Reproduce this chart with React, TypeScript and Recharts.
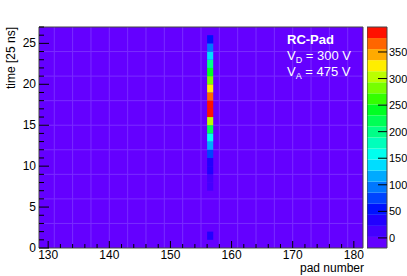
import { ComposedChart, XAxis, YAxis, ReferenceArea, CartesianGrid } from 'recharts';

// pad range and time bins (25 ns each)
const PAD_MIN = 128.5;
const PAD_MAX = 181.5;
const TIME_MAX = 27;
const HIT_PAD = 156;

// charge per time bin (index = time bin) for the hit pad
const TIME_BINS = [0, 25, 0, 0, 0, 0, 0, 10, 15, 25, 40, 70, 110, 160, 230, 300, 380, 390, 360, 320, 280, 240, 190, 140, 90, 50, 0];

const X_TICKS = [130, 132, 134, 136, 138, 140, 142, 144, 146, 148, 150, 152, 154, 156, 158, 160, 162, 164, 166, 168, 170, 172, 174, 176, 178, 180];
const Y_TICKS = [0, 1, 2, 3, 4, 5, 6, 7, 8, 9, 10, 11, 12, 13, 14, 15, 16, 17, 18, 19, 20, 21, 22, 23, 24, 25, 26, 27];
const Z_TICKS = [0, 50, 100, 150, 200, 250, 300, 350];
const Z_MIN = -19;
const Z_MAX = 397;

// 20 contour colours, bottom to top
const PALETTE = [
  '#6400ff', '#4400ff', '#2200ff', '#0011ff', '#0044ff',
  '#0077ff', '#00aaff', '#00ddff', '#00ffee', '#00ffbb',
  '#00ff88', '#00ff55', '#00ff22', '#33ff00', '#77ff00',
  '#bbff00', '#ffee00', '#ffaa00', '#ff6600', '#ff1100',
];

const GRID_X = [131, 134, 137, 140, 143, 146, 149, 152, 155, 158, 161, 164, 167, 170, 173, 176, 179];
const GRID_Y = [3, 6, 9, 12, 15, 18, 21, 24];

const FONT = '"Liberation Sans", Arial, sans-serif';
const STEP = (Z_MAX - Z_MIN) / PALETTE.length;

const colorFor = (v: number) => {
  const i = Math.min(PALETTE.length - 1, Math.max(0, Math.floor((v - Z_MIN) / STEP)));
  return PALETTE[i];
};

// ROOT style ticks: drawn inward, labels outside
// eslint-disable-next-line @typescript-eslint/no-explicit-any
const YTick = (props: any) => {
  const { x, y, payload } = props;
  const v = payload.value as number;
  const major = v % 5 === 0;
  return (
    <g>
      <line x1={x} x2={x + (major ? 10 : 5)} y1={y} y2={y} stroke="#000" />
      {major && (
        <text x={x - 3} y={y + 4} textAnchor="end" fontSize={12} fontFamily={FONT} fill="#000">{v}</text>
      )}
    </g>
  );
};

// eslint-disable-next-line @typescript-eslint/no-explicit-any
const XTick = (props: any) => {
  const { x, y, payload } = props;
  const v = payload.value as number;
  const major = v % 10 === 0;
  return (
    <g>
      <line x1={x} x2={x} y1={y} y2={y - (major ? 7 : 4)} stroke="#000" />
      {major && (
        <text x={x} y={y + 11} textAnchor="middle" fontSize={12} fontFamily={FONT} fill="#000">{v}</text>
      )}
    </g>
  );
};

// eslint-disable-next-line @typescript-eslint/no-explicit-any
const ZTick = (props: any) => {
  const { x, y, payload } = props;
  return (
    <g>
      <line x1={x - 9} x2={x} y1={y} y2={y} stroke="#000" />
      <text x={x + 2} y={y + 4} textAnchor="start" fontSize={11} fontFamily={FONT} fill="#000">{payload.value}</text>
    </g>
  );
};

export default function App() {
  return (
    <div style={{ position: 'absolute', left: 0, top: 0, width: 407, height: 276, background: '#fff' }}>
      <div style={{ position: 'absolute', left: 0, top: 0 }}>
        <ComposedChart width={407} height={276} margin={{ top: 27, right: 44, bottom: 0, left: 9 }}>
          <CartesianGrid
            fill={PALETTE[0]}
            fillOpacity={1}
            stroke="#7a2cff"
            strokeWidth={1}
            verticalValues={GRID_X}
            horizontalValues={GRID_Y}
          />
          <XAxis
            type="number"
            dataKey="pad"
            domain={[PAD_MIN, PAD_MAX]}
            allowDataOverflow
            ticks={X_TICKS}
            interval={0}
            height={28}
            tickSize={0}
            tickMargin={0}
            axisLine={false}
            tick={<XTick />}
          />
          <YAxis
            type="number"
            dataKey="time"
            domain={[0, TIME_MAX]}
            allowDataOverflow
            ticks={Y_TICKS}
            interval={0}
            width={30}
            tickSize={0}
            tickMargin={0}
            axisLine={false}
            tick={<YTick />}
          />
          {TIME_BINS.map((v, t) => v > 0 && (
            <ReferenceArea
              key={t}
              x1={HIT_PAD}
              x2={HIT_PAD + 1}
              y1={t}
              y2={t + 1}
              fill={colorFor(v)}
              fillOpacity={1}
              stroke="none"
            />
          ))}
          <ReferenceArea x1={PAD_MIN} x2={PAD_MAX} y1={0} y2={TIME_MAX} fill="none" stroke="#444" strokeWidth={1} />
        </ComposedChart>
      </div>
      <div style={{ position: 'absolute', left: 367, top: 0 }}>
        <ComposedChart width={40} height={276} margin={{ top: 27, right: 0, bottom: 0, left: 0 }}>
          <XAxis
            type="number"
            dataKey="x"
            domain={[0, 1]}
            allowDataOverflow
            height={28}
            tick={false}
            axisLine={false}
            tickLine={false}
          />
          <YAxis
            type="number"
            dataKey="z"
            orientation="right"
            domain={[Z_MIN, Z_MAX]}
            allowDataOverflow
            ticks={Z_TICKS}
            interval={0}
            width={20}
            tickSize={0}
            tickMargin={0}
            axisLine={false}
            tick={<ZTick />}
          />
          {PALETTE.map((c, i) => (
            <ReferenceArea
              key={c}
              x1={0}
              x2={1}
              y1={Z_MIN + i * STEP}
              y2={Z_MIN + (i + 1) * STEP}
              fill={c}
              fillOpacity={1}
              stroke="none"
            />
          ))}
          <ReferenceArea x1={0} x2={1} y1={Z_MIN} y2={Z_MAX} fill="none" stroke="#444" strokeWidth={1} />
        </ComposedChart>
      </div>
      <svg width={407} height={276} style={{ position: 'absolute', left: 0, top: 0, pointerEvents: 'none' }}>
        <text transform="translate(15,27) rotate(-90)" textAnchor="end" fontSize={12} fontFamily={FONT} fill="#000">time [25 ns]</text>
        <text x={364} y={272} textAnchor="end" fontSize={12} fontFamily={FONT} fill="#000">pad number</text>
        <g fontFamily={FONT} fontSize={13} fill="#fff">
          <text x={287} y={44} fontWeight="bold">RC-Pad</text>
          <text x={287} y={60}>V<tspan fontSize={9} dy={3}>D</tspan><tspan dy={-3}> = 300 V</tspan></text>
          <text x={287} y={76}>V<tspan fontSize={9} dy={3}>A</tspan><tspan dy={-3}> = 475 V</tspan></text>
        </g>
      </svg>
    </div>
  );
}
